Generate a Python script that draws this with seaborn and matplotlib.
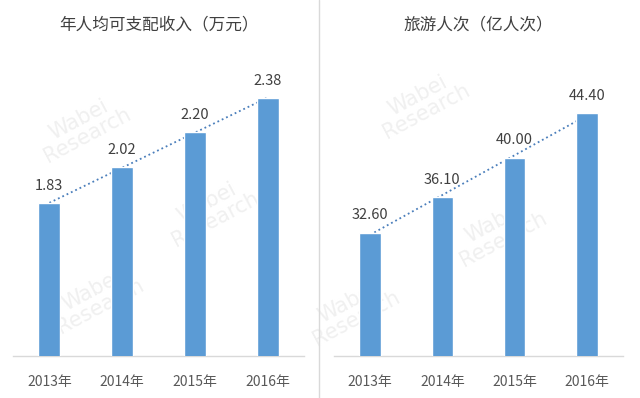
import numpy as np
import pandas as pd
import seaborn as sns
import matplotlib.pyplot as plt

years = ['2013年', '2014年', '2015年', '2016年']
income = [1.83, 2.02, 2.20, 2.38]
trips = [32.60, 36.10, 40.00, 44.40]
titles = ['年人均可支配收入（万元）', '旅游人次（亿人次）']

sns.set_style('white')
plt.rcParams['font.family'] = ['Noto Sans CJK SC', 'DejaVu Sans']

fig = plt.figure(figsize=(6.4, 3.98), dpi=100)
fig.patch.set_facecolor('white')

# faint watermark, kept behind the bars
for (wx, wy) in [(0.13, 0.68), (0.33, 0.47), (0.66, 0.74), (0.78, 0.42), (0.15, 0.25), (0.55, 0.22)]:
    fig.text(wx, wy, 'Wabei\nResearch', fontsize=15, color='#F0F0F0', rotation=28,
             ha='center', va='center', family='DejaVu Sans', zorder=0, linespacing=0.9)

bar_color = '#5B9BD5'
axes_pos = [[13 / 640, 42 / 398, 291 / 640, 296 / 398],
            [334 / 640, 42 / 398, 289 / 640, 296 / 398]]
ylims = [(1.034, 2.578), (20.4, 49.65)]

for i, vals in enumerate([income, trips]):
    ax = fig.add_axes(axes_pos[i])
    ax.set_zorder(2)
    ax.patch.set_alpha(0)
    df = pd.DataFrame({'year': years, 'value': vals})
    sns.barplot(data=df, x='year', y='value', color=bar_color, saturation=1,
                width=0.3, ax=ax, zorder=3)
    # linear trend line
    xs = np.arange(len(vals))
    k, b = np.polyfit(xs, vals, 1)
    ax.plot(xs, k * xs + b, linestyle=':', color='#4A7EBB', linewidth=1.3, zorder=2)
    ax.set_ylim(*ylims[i])
    ax.set_xlim(-0.5, 3.5)
    off = (ylims[i][1] - ylims[i][0]) * 0.035
    for x, v in zip(xs, vals):
        ax.text(x, v + off, f'{v:.2f}', ha='center', va='bottom', fontsize=10.5, color='#404040')
    ax.set_xlabel('')
    ax.set_ylabel('')
    ax.set_yticks([])
    ax.tick_params(axis='x', length=0, labelsize=10, colors='#595959', pad=14)
    for s in ['top', 'right', 'left']:
        ax.spines[s].set_visible(False)
    ax.spines['bottom'].set_color('#D9D9D9')
    ax.spines['bottom'].set_linewidth(1)
    fig.text(axes_pos[i][0] + axes_pos[i][2] / 2, 1 - 25 / 398, titles[i], ha='center', va='center',
             fontsize=12, color='#404040')

# divider between the two panels
fig.add_artist(plt.Line2D([319 / 640, 319 / 640], [0, 1], color='#D9D9D9', linewidth=1))

fig.savefig('out.png', dpi=100)
